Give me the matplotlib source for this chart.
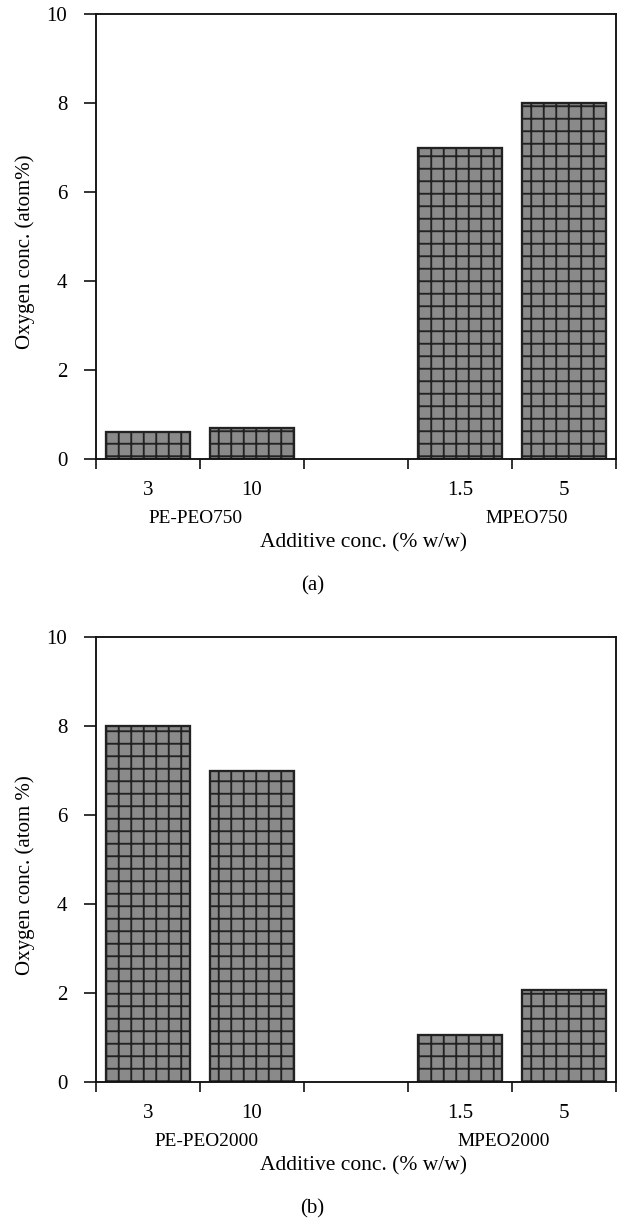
import matplotlib
matplotlib.use("Agg")
import matplotlib.pyplot as plt
from matplotlib.transforms import blended_transform_factory

# ---- data -------------------------------------------------------------
conc_labels = ["3", "10", "", "1.5", "5"]
oxygen_750 = [0.6, 0.7, 0.0, 7.0, 8.0]
oxygen_2000 = [8.0, 7.0, 0.0, 1.05, 2.07]
groups_750 = ["PE-PEO750", "MPEO750"]
groups_2000 = ["PE-PEO2000", "MPEO2000"]
ylabels = ["Oxygen conc. (atom%)", "Oxygen conc. (atom %)"]
xlabel = "Additive conc. (% w/w)"
y_ticks = [0, 2, 4, 6, 8, 10]
panel_tags = ["(a)", "(b)"]

# ---- style ------------------------------------------------------------
plt.rcParams["font.family"] = ["Liberation Serif", "DejaVu Serif"]
plt.rcParams["hatch.linewidth"] = 0.9
plt.rcParams["hatch.color"] = "#333333"

W, H, DPI = 622, 1224, 150
fig = plt.figure(figsize=(W / DPI, H / DPI), dpi=DPI)


def py(pix):
    """figure fraction from a pixel row measured from the top"""
    return 1 - pix / H


def draw_panel(rect, values, groups, ylabel, tag, group_x, axis_row):
    ax = fig.add_axes(rect)
    n = len(values)
    centers = [i + 0.5 for i in range(n)]
    # empty slot separates the two additive families
    xs = [c for c, v in zip(centers, values) if v > 0]
    hs = [v for v in values if v > 0]
    ax.bar(xs, hs, width=0.8, color="#8a8a8a", edgecolor="#222222",
           linewidth=1.1, hatch="++", zorder=2)
    ax.set_xlim(0, n)
    ax.set_ylim(0, 10)

    # slot boundaries as major ticks (no labels), labels centred on bars
    ax.set_xticks(range(n + 1))
    ax.set_xticklabels([])
    ax.set_xticks(centers, minor=True)
    ax.set_xticklabels(conc_labels, minor=True, fontsize=10)
    ax.tick_params(axis="x", which="major", direction="out", length=4.8,
                   width=0.8, color="#111111")
    ax.tick_params(axis="x", which="minor", length=0, pad=10.5)

    ax.set_yticks(y_ticks)
    ax.set_yticklabels([str(t) for t in y_ticks], fontsize=10)
    ax.tick_params(axis="y", direction="out", length=5.8, width=0.8,
                   pad=8, color="#111111")

    for side in ["left", "right", "top", "bottom"]:
        ax.spines[side].set_linewidth(0.9)
        ax.spines[side].set_color("#111111")

    ax.text(-0.137, 0.465, ylabel, transform=ax.transAxes, rotation=90,
            ha="center", va="center", fontsize=10)

    trans = blended_transform_factory(ax.transData, fig.transFigure)
    for gx, g in zip(group_x, groups):
        ax.text(gx, py(axis_row + 59), g, transform=trans, ha="center",
                va="center", fontsize=9.3)
    ax.text(2.57, py(axis_row + 84), xlabel, transform=trans, ha="center",
            va="center", fontsize=10.3)
    ax.text(2.08, py(axis_row + 127), tag, transform=trans, ha="center",
            va="center", fontsize=10)
    return ax


left = 96 / W
width = (616 - 96) / W
height = (459 - 14) / H

draw_panel([left, py(459), width, height], oxygen_750, groups_750,
           ylabels[0], panel_tags[0], [0.96, 4.14], 459)
draw_panel([left, py(1082), width, height], oxygen_2000, groups_2000,
           ylabels[1], panel_tags[1], [1.06, 3.92], 1082)

fig.savefig("out.png", dpi=DPI)
